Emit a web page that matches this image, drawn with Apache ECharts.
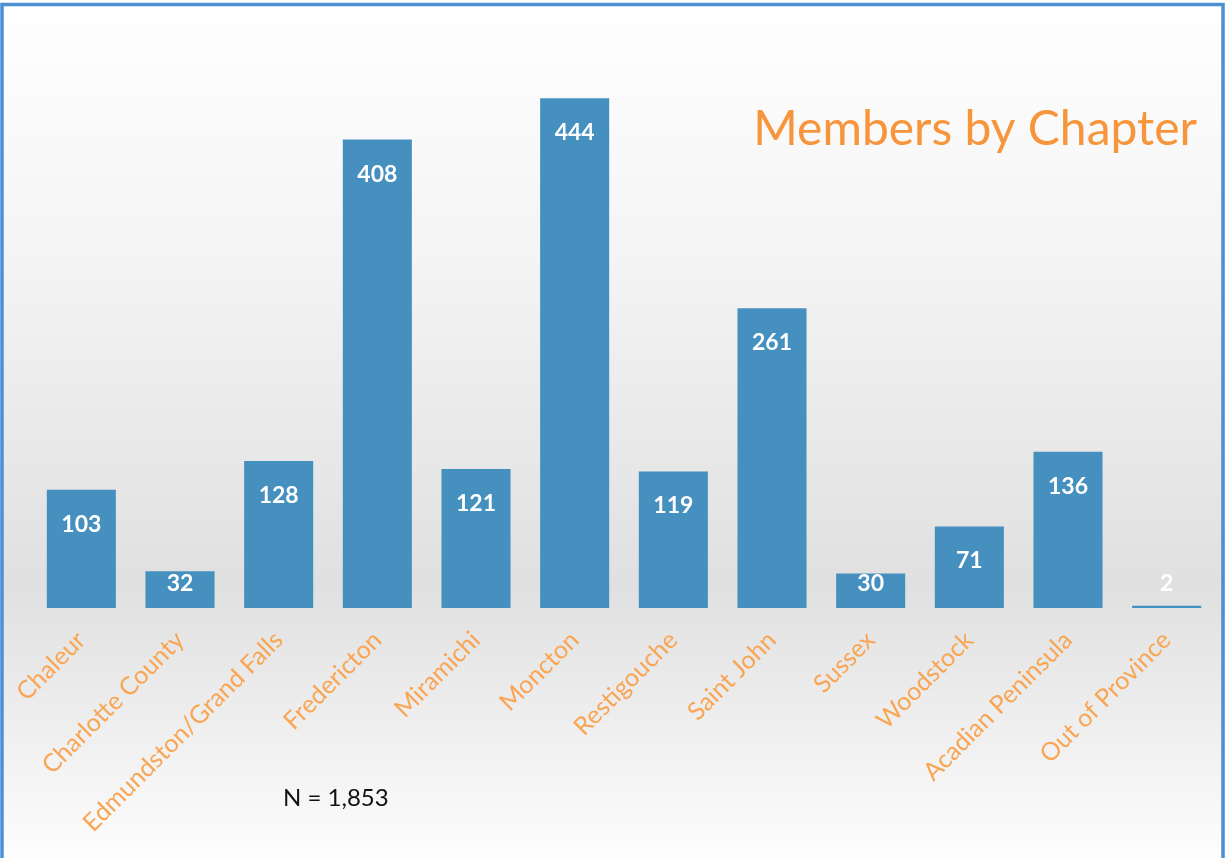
<!DOCTYPE html>
<html>
<head>
<meta charset="utf-8">
<script src="https://cdn.jsdelivr.net/npm/echarts@6/dist/echarts.min.js"></script>
<style>
  html, body { margin: 0; padding: 0; background: #fff; }
  #chart { width: 1225px; height: 858px; }
</style>
</head>
<body>
<div id="chart"></div>
<script>
const chapters = [
  "Chaleur", "Charlotte County", "Edmundston/Grand Falls", "Fredericton",
  "Miramichi", "Moncton", "Restigouche", "Saint John", "Sussex",
  "Woodstock", "Acadian Peninsula", "Out of Province"
];
const members = [103, 32, 128, 408, 121, 444, 119, 261, 30, 71, 136, 2];
const titleText = "Members by Chapter";
const noteText = "N = 1,853";

const font = "Lato, 'Open Sans', sans-serif";

// short bars get their label pushed up from the base, like Excel does
const barData = members.map((v) => ({
  value: v,
  label: v < 50 ? { position: "insideBottom", distance: 13 } : undefined
}));

const chart = echarts.init(document.getElementById("chart"));

chart.setOption({
  animation: false,
  graphic: [
    {
      type: "rect",
      z: -10,
      silent: true,
      shape: { x: 0, y: 0, width: 1225, height: 858 },
      style: {
        fill: new echarts.graphic.LinearGradient(0, 0, 0, 1, [
          { offset: 0, color: "#ffffff" },
          { offset: 0.3, color: "#f4f4f4" },
          { offset: 0.68, color: "#e0e0e0" },
          { offset: 0.85, color: "#efefef" },
          { offset: 1, color: "#fdfdfd" }
        ])
      }
    },
    {
      type: "rect",
      z: 100,
      silent: true,
      shape: { x: 2, y: 4.5, width: 1221, height: 900 },
      style: { fill: null, stroke: "#4a90d2", lineWidth: 3.5 }
    },
    {
      type: "text",
      left: 283,
      top: 786,
      style: { text: noteText, fill: "#111", font: "24px " + font }
    }
  ],
  title: {
    text: titleText,
    right: 23,
    top: 101,
    textStyle: { color: "#f7953c", fontSize: 48, fontWeight: "normal", fontFamily: font }
  },
  grid: { left: 32, right: 9, top: 34, bottom: 250, containLabel: false },
  xAxis: {
    type: "category",
    data: chapters,
    axisLine: { show: false },
    axisTick: { show: false },
    axisLabel: {
      interval: 0,
      rotate: 45,
      margin: 28,
      color: "#f9a553",
      fontSize: 25,
      fontFamily: font
    }
  },
  yAxis: {
    type: "value",
    min: 0,
    max: 500,
    show: false,
    splitLine: { show: false }
  },
  series: [
    {
      type: "bar",
      data: barData,
      barCategoryGap: "30%",
      itemStyle: { color: "#4590bf" },
      label: {
        show: true,
        position: "insideTop",
        distance: 23,
        color: "#fff",
        fontSize: 23,
        fontWeight: "bold",
        fontFamily: font
      }
    }
  ]
});
</script>
</body>
</html>
